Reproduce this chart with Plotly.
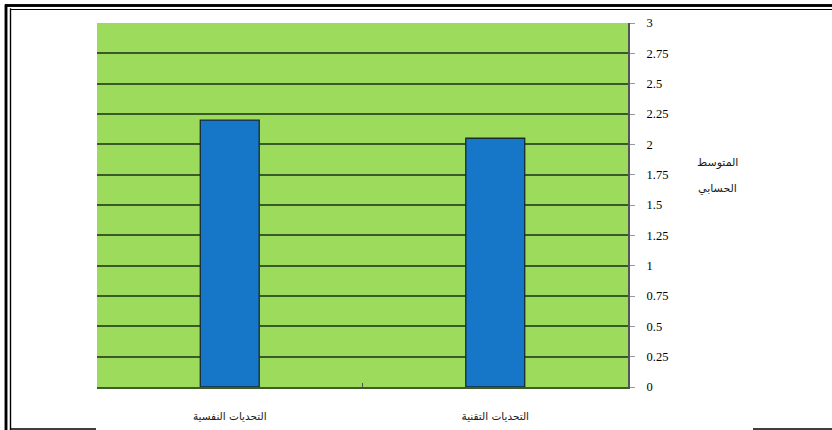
import plotly.graph_objects as go

# Mean score per challenge category
categories = ["التحديات النفسية", "التحديات التقنية"]
means = [2.20, 2.05]

# Right-hand value axis
y_ticks = [0, 0.25, 0.5, 0.75, 1, 1.25, 1.5, 1.75, 2, 2.25, 2.5, 2.75, 3]
y_tick_labels = ["0", "0.25", "0.5", "0.75", "1", "1.25", "1.5", "1.75", "2",
                 "2.25", "2.5", "2.75", "3"]
y_title_lines = ["المتوسط", "الحسابي"]

W, H = 832, 430
L, R, B = 97, 204, 43
PLOT_TOP = 23                     # pixel row of the top of the plot area
PW, PH = W - L - R, H - B         # paper area reaches the page top


def px_x(px):
    return (px - L) / PW


def px_y(py):
    return (H - B - py) / PH


def rule(x0, y0, x1, y1, w):
    for layer in ("below", "above"):
        fig.add_shape(type="line", xref="paper", yref="paper", layer=layer,
                      x0=px_x(x0), x1=px_x(x1), y0=px_y(y0), y1=px_y(y1),
                      line=dict(color="black", width=w))


fig = go.Figure()
fig.add_trace(go.Bar(
    x=categories,
    y=means,
    marker=dict(color="#1677c9", line=dict(color="#1a2a33", width=1.3)),
    width=0.222,
    hoverinfo="x+y",
))

# double-rule page frame (left and top), single rule pieces at the bottom
rule(6, 4.5, 6, 430, 2.5)
rule(10.5, 8.5, 10.5, 430, 1.2)
rule(5, 5.5, 832, 5.5, 2.5)
rule(10, 9.5, 832, 9.5, 1.2)
rule(10, 429, 96, 429, 1.2)
rule(753, 429, 832, 429, 1.2)

for text, py in zip(y_title_lines, [162, 188]):
    fig.add_annotation(
        text=text, xref="paper", yref="paper",
        x=px_x(717), y=px_y(py), xanchor="center", yanchor="middle",
        showarrow=False,
        font=dict(family="DejaVu Sans", size=11, color="#1a1a1a"),
    )

fig.update_layout(
    width=W, height=H,
    margin=dict(l=L, r=R, t=0, b=B, pad=0, autoexpand=False),
    paper_bgcolor="white",
    plot_bgcolor="#9ddb5c",
    showlegend=False,
    bargap=0.78,
    xaxis=dict(
        type="category",
        showgrid=False,
        showline=True, linecolor="#3d5c2a", linewidth=1.6,
        ticks="inside", ticklen=4, tickcolor="#555",
        tickson="boundaries",
        tickfont=dict(family="DejaVu Sans", size=10.5, color="#1a1a1a"),
        ticklabelstandoff=19,
        automargin=False,
        fixedrange=True,
    ),
    yaxis=dict(
        side="right",
        domain=[0, px_y(PLOT_TOP)],
        range=[0, 3],
        tickvals=y_ticks, ticktext=y_tick_labels,
        showgrid=True, gridcolor="#3a5a28", gridwidth=2,
        showline=True, linecolor="#555", linewidth=2,
        ticks="outside", ticklen=5, tickcolor="#999",
        tickfont=dict(family="Liberation Serif", size=12.5, color="#000"),
        ticklabelstandoff=9,
        zeroline=False,
        automargin=False,
        fixedrange=True,
    ),
)

fig.write_html("out.html", config={"displayModeBar": False})
